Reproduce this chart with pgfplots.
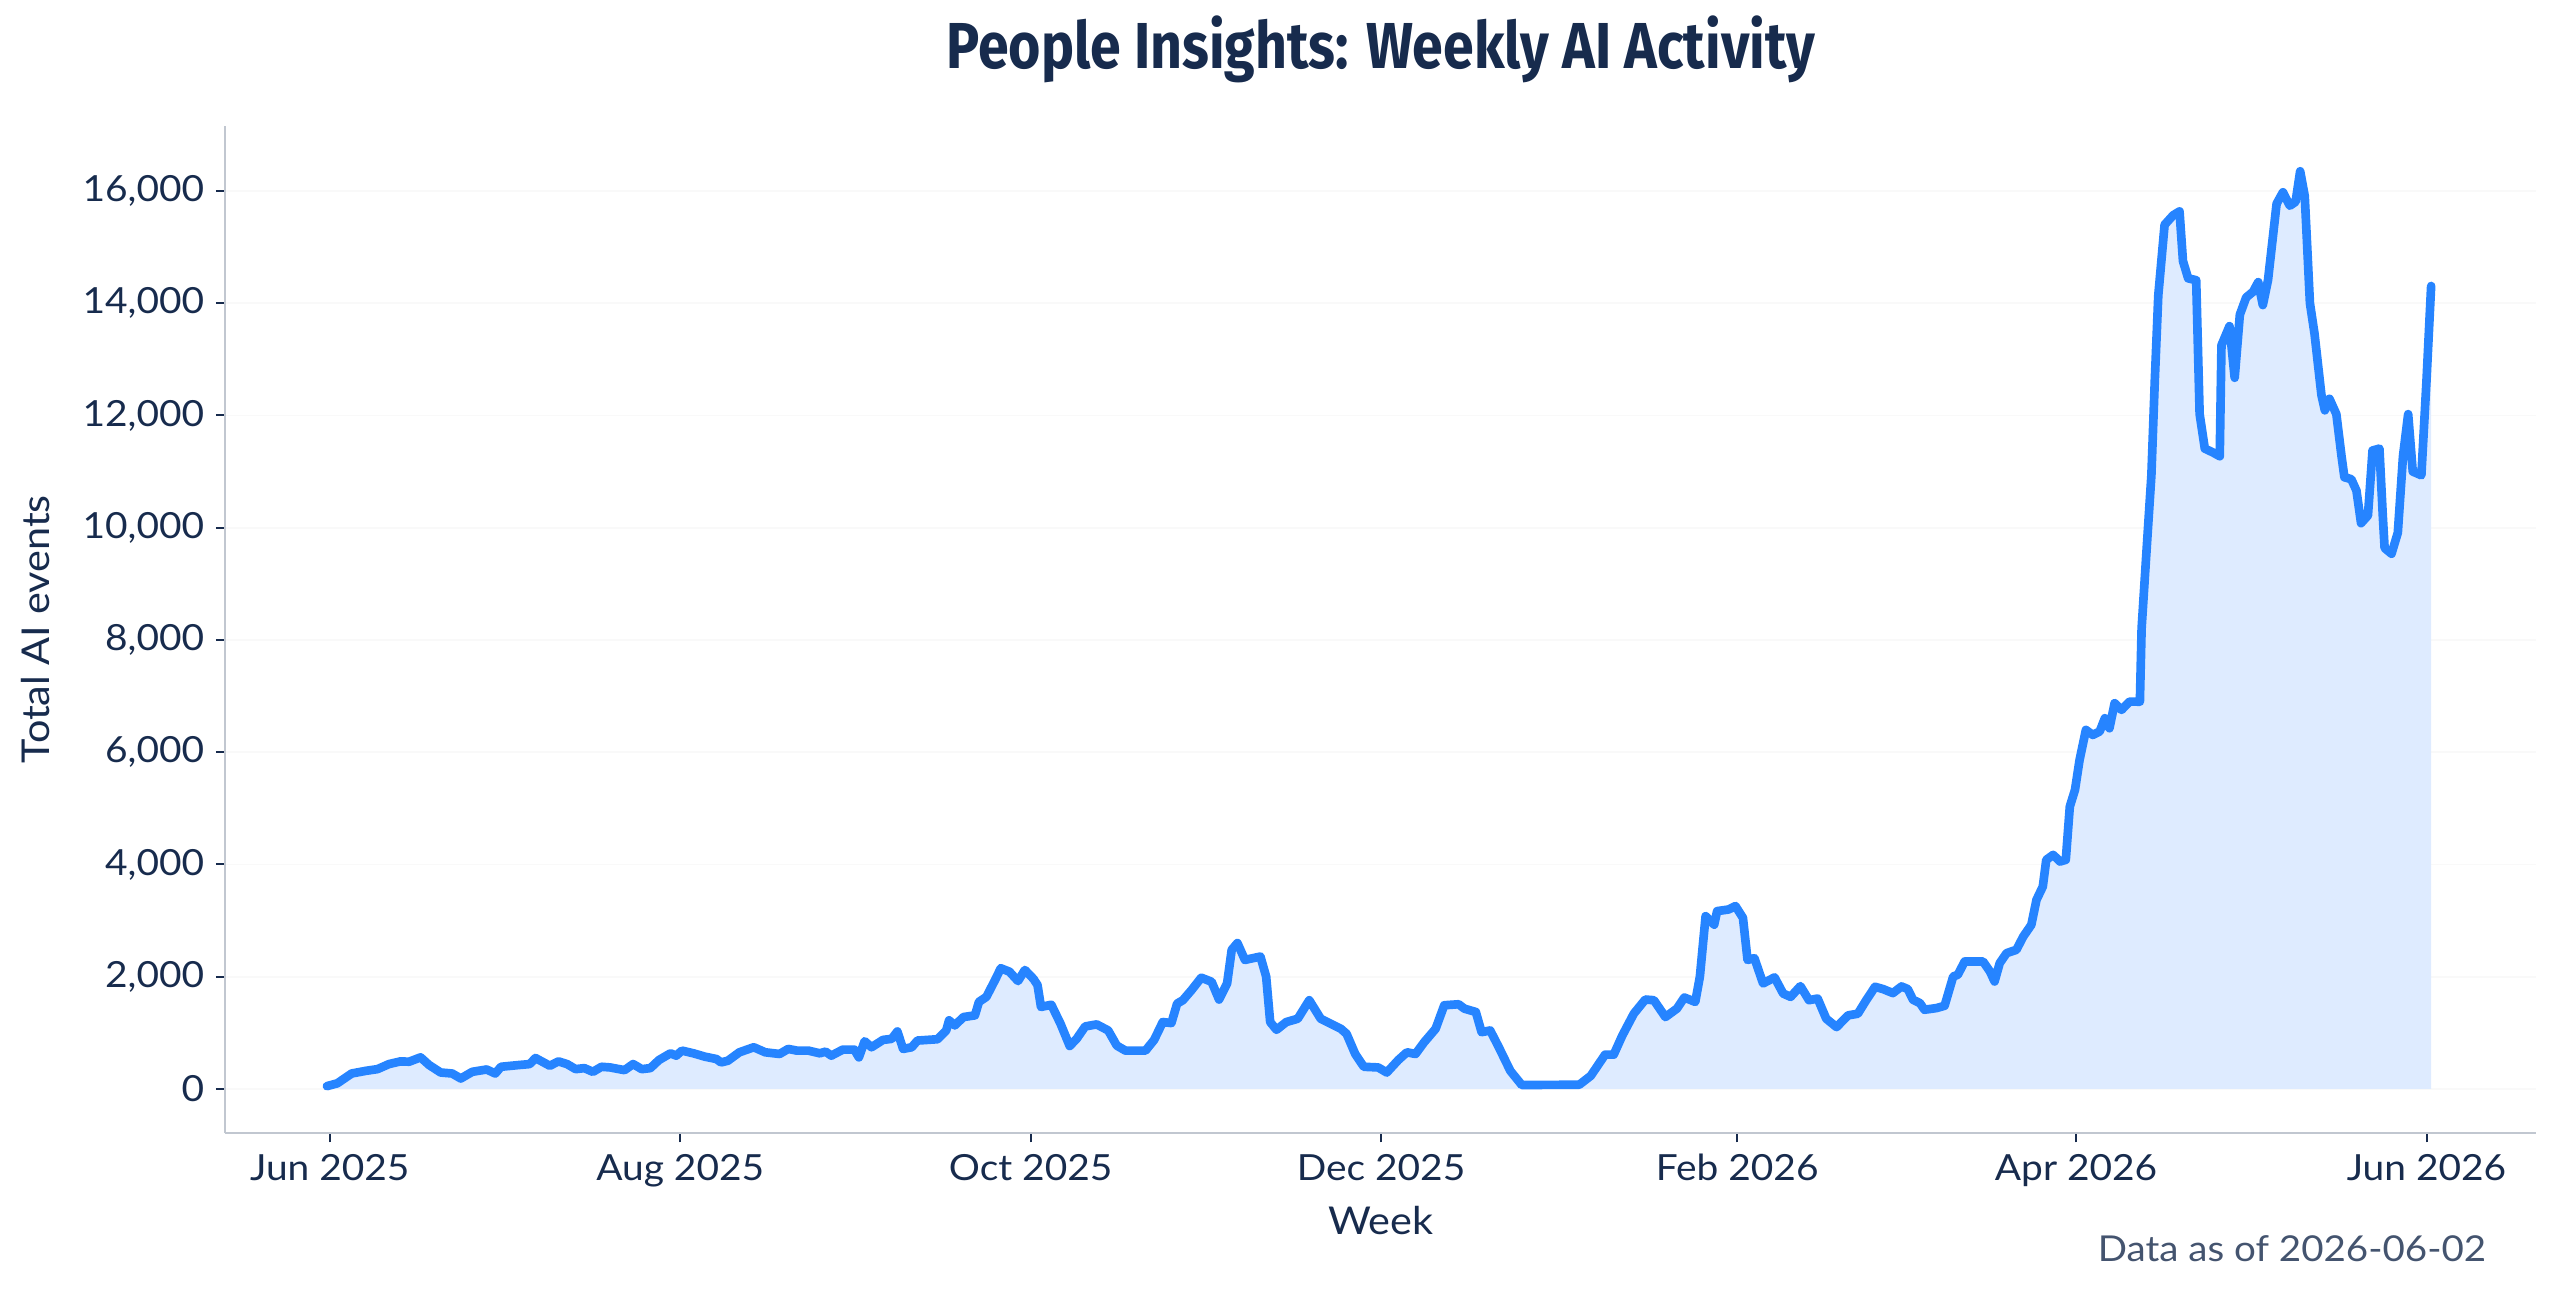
\documentclass[border=0pt]{standalone}
\usepackage{pgfplots}
\pgfplotsset{compat=1.18}
\usepackage{pgfplotstable}
\usepackage{graphicx}
\usepackage{fontspec}
\setmainfont{Lato}[FakeStretch=1.08]
\newfontfamily\titlefont{Fira Sans}
\definecolor{navy}{HTML}{172B4D}
\definecolor{linecol}{HTML}{2684FF}
\definecolor{fillcol}{HTML}{DEEBFF}
\definecolor{spine}{HTML}{C1C7D0}
\definecolor{subtle}{HTML}{44546F}

\pgfplotstableread{
day value
-0.5 50
1.3 100
3.8 275
6.3 323
8.3 353
10.3 443
12.3 491
13.8 485
15.8 563
17.3 425
19.3 293
21.3 275
22.8 186
24.8 305
27.3 347
28.8 275
29.8 395
32.8 425
34.8 443
35.8 551
38.3 413
39.8 491
41.3 443
42.8 353
44.3 371
45.8 305
47.3 395
48.8 383
51.3 335
52.8 443
54.3 353
55.8 371
57.3 515
59.3 635
60.3 593
61.3 683
63.3 635
65.3 575
67.3 533
68.1 473
69.3 503
71.3 653
73.8 743
75.8 653
78.3 623
79.8 713
81.3 683
83.3 683
85.3 635
86.3 665
87.3 593
89.3 701
91.3 701
92.1 563
93.1 850
94.3 743
96.3 874
97.8 892
98.8 1024
99.8 713
101.3 743
102.3 862
105.8 886
107.3 1042
107.8 1222
108.8 1132
110.3 1281
112.3 1311
113 1551
114.3 1641
115.8 1940
116.8 2150
118.3 2090
119.8 1922
121 2120
122.5 1960
123.2 1850
123.8 1461
125.6 1500
127.2 1162
128.8 765
130 892
131.5 1114
133.5 1150
135.5 1042
137 772
138.5 683
142 683
143.5 874
145 1192
146.5 1174
147.5 1521
148.5 1581
150 1760
151.7 1982
153.5 1910
154.8 1593
156.2 1880
157 2479
158 2599
159.3 2299
162 2359
163 2000
163.7 1192
164.8 1054
166.5 1192
168.5 1251
170.5 1581
172.5 1251
176 1072
177 982
178.5 623
180 395
182.5 383
184 293
186 515
187.5 653
189 623
190.5 832
192.5 1072
194 1491
196.5 1509
197.5 1431
199.5 1371
200.5 1012
202 1042
203.5 743
205.5 323
207.5 70
217.5 75
219.5 233
222 611
223.5 611
225 952
227 1341
229 1593
230.5 1581
232.5 1281
234.5 1431
235.8 1629
237.7 1551
238.5 2000
239.5 3078
241 2928
241.5 3168
243.5 3198
244.7 3258
246 3048
246.8 2299
248 2329
249.5 1880
251.5 1988
253 1700
254.3 1641
256 1832
257.5 1581
259 1611
260.5 1251
262.3 1102
264.3 1311
266 1340
267.5 1589
269 1820
270.4 1779
272.1 1708
273.6 1826
274.7 1779
275.6 1589
276.8 1530
277.6 1411
279.7 1441
281.1 1482
282.6 2004
283.4 2034
284.6 2271
287.8 2271
289 2093
289.8 1915
290.7 2242
291.9 2420
293.6 2479
294.8 2716
296.2 2924
297.1 3370
298.2 3606
298.8 4082
300 4171
301.2 4052
302.2 4082
302.9 5031
303.8 5329
304.6 5863
305.7 6397
306.9 6308
308.1 6370
309 6605
309.8 6427
310.7 6873
311.9 6754
313.3 6902
315.1 6900
315.4 8207
316.2 9502
317.1 10934
317.7 12637
318.3 14137
319.4 15398
320.9 15568
322.0 15636
322.6 14750
323.5 14444
324.9 14410
325.5 12024
326.4 11410
327.8 11342
329.0 11274
329.3 13251
330.7 13592
331.6 12671
332.5 13796
333.6 14103
334.8 14205
335.7 14376
336.5 13967
337.4 14410
338.9 15773
340.0 15977
341.2 15738
342.2 15807
343.0 16352
343.8 15909
344.7 14001
345.5 13456
346.7 12365
347.3 12092
348.1 12297
349.3 12024
350.2 11274
350.7 10899
351.9 10865
352.8 10661
353.6 10081
354.8 10218
355.6 11376
356.8 11410
357.4 10184
357.7 9638
358.9 9536
360.0 9911
360.9 11274
361.8 12024
362.6 11001
364.1 10934
365.0 12637
365.8 14307
}\datatable

\begin{document}
\begin{tikzpicture}
\useasboundingbox (-67.6pt,-48.3pt) rectangle (700.4pt,339.9pt);
\begin{axis}[
  scale only axis,
  width=693.1pt, height=302.2pt,
  xmin=-18.19, xmax=384.0,
  ymin=-785, ymax=17164,
  axis x line*=bottom, axis y line*=left,
  axis line style={spine, line width=0.7pt},
  xtick={0,61,122,183,245,304,365},
  xticklabels={Jun 2025,Aug 2025,Oct 2025,Dec 2025,Feb 2026,Apr 2026,Jun 2026},
  ytick={0,2000,4000,6000,8000,10000,12000,14000,16000},
  scaled y ticks=false,
  /pgf/number format/1000 sep={,},
  /pgf/number format/assume math mode=true,
  tick align=outside,
  major tick length=2.8pt,
  tick style={navy, line width=0.6pt},
  ticklabel style={font=\fontsize{10.8}{12}\selectfont, text=navy},
  ymajorgrids,
  grid style={black!2.5, line width=0.5pt},
]
\addplot[fill=fillcol, draw=none] table[x=day, y=value] {\datatable} \closedcycle;
\addplot[linecol, line width=2.6pt, line join=round, line cap=round] table[x=day, y=value] {\datatable};
\end{axis}
\node[anchor=base, text=navy] at (346.6pt,319.3pt) {\resizebox{260.6pt}{\height}{\titlefont\bfseries\fontsize{19.5}{22}\selectfont People Insights: Weekly AI Activity}};
\node[rotate=90, text=navy, font=\fontsize{11.5}{13}\selectfont] at (-56.8pt,151.1pt) {Total AI events};
\node[text=navy, font=\fontsize{11.5}{13}\selectfont] at (346.6pt,-26.4pt) {Week};
\node[anchor=east, text=subtle, font=\fontsize{10.7}{12}\selectfont] at (681.8pt,-34.8pt) {Data as of 2026-06-02};
\end{tikzpicture}
\end{document}
